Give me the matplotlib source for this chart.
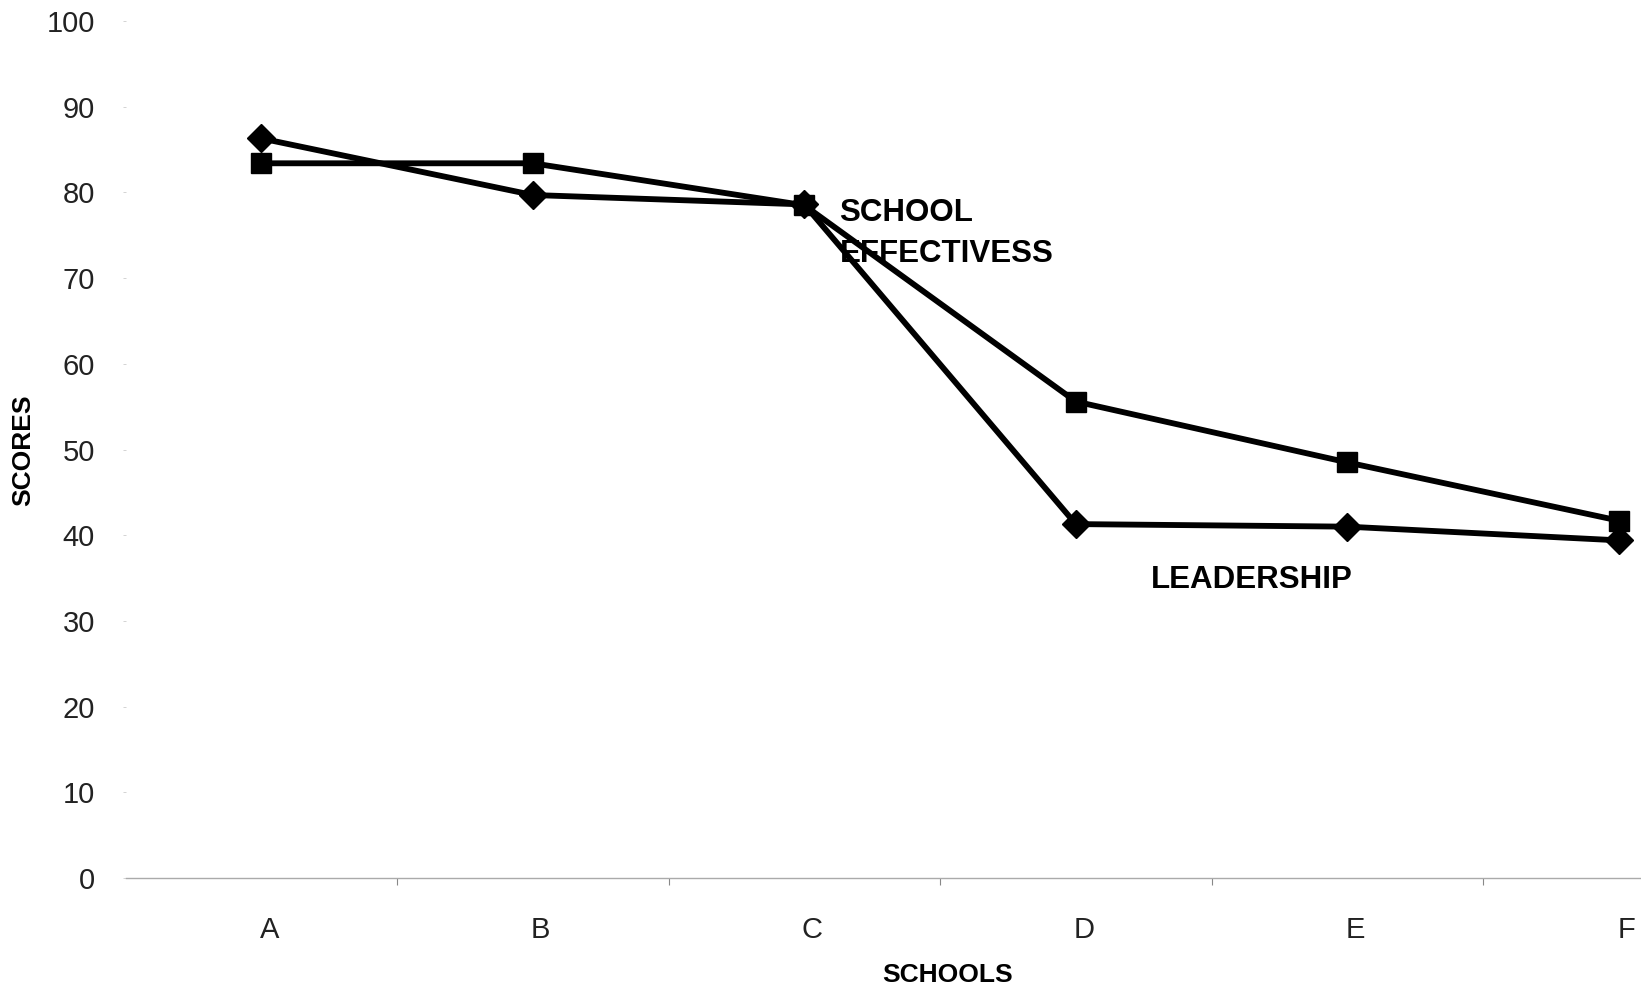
import matplotlib
matplotlib.use("Agg")
import matplotlib.pyplot as plt
import matplotlib.transforms as mtransforms
from matplotlib.ticker import FixedLocator

plt.rcParams['font.family'] = ['Liberation Sans', 'DejaVu Sans']

schools = ['A', 'B', 'C', 'D', 'E', 'F']
leadership = [86.3, 79.7, 78.6, 41.3, 41.0, 39.4]
effectiveness = [83.4, 83.4, 78.5, 55.6, 48.5, 41.7]
y_ticks = [0, 10, 20, 30, 40, 50, 60, 70, 80, 90, 100]

fig = plt.figure(figsize=(16.41, 9.92), dpi=100)
# axes run a little past the right edge, as on the scanned page
ax = fig.add_axes([0.0765, 0.1149, 0.9927, 0.8639])

x = range(len(schools))
ax.plot(x, effectiveness, color='black', lw=4.2, marker='s', ms=15,
        solid_joinstyle='miter', zorder=3)
ax.plot(x, leadership, color='black', lw=4.2, marker='D', ms=14,
        solid_joinstyle='miter', zorder=4)

ax.set_xlim(-0.5, len(schools) - 0.5)
ax.set_ylim(0, 100)

ax.set_xticks(list(x))
ax.set_xticklabels(schools, fontsize=21, color='#222222')
ax.xaxis.set_minor_locator(FixedLocator([i + 0.5 for i in range(len(schools) - 1)]))
ax.tick_params(axis='x', which='major', length=0, pad=27)
ax.tick_params(axis='x', which='minor', length=5, width=0.8, color='#888888')
# category letters sit slightly right of the markers
shift = mtransforms.ScaledTranslation(8 / 100, 0, fig.dpi_scale_trans)
for lbl in ax.get_xticklabels():
    lbl.set_transform(lbl.get_transform() + shift)

ax.set_yticks(y_ticks)
ax.set_yticklabels([str(v) for v in y_ticks], fontsize=21, color='#222222')
ax.tick_params(axis='y', length=2, width=0.6, color='#cccccc', pad=20)

for side in ['top', 'right', 'left']:
    ax.spines[side].set_visible(False)
ax.spines['bottom'].set_color('#aaaaaa')
ax.spines['bottom'].set_linewidth(1.0)

ax.text(2.13, 77.6, 'SCHOOL', fontsize=22.5, fontweight='bold',
        ha='left', va='center')
ax.text(2.13, 72.8, 'EFFECTIVESS', fontsize=22.5, fontweight='bold',
        ha='left', va='center')
ax.text(3.275, 34.8, 'LEADERSHIP', fontsize=22.5, fontweight='bold',
        ha='left', va='center')

fig.text(948 / 1641, 1 - 975 / 992, 'SCHOOLS', fontsize=19, fontweight='bold',
         ha='center', va='center')
fig.text(23 / 1641, 1 - 450 / 992, 'SCORES', fontsize=19, fontweight='bold',
         ha='center', va='center', rotation=90)

fig.savefig('out.png', dpi=100)
